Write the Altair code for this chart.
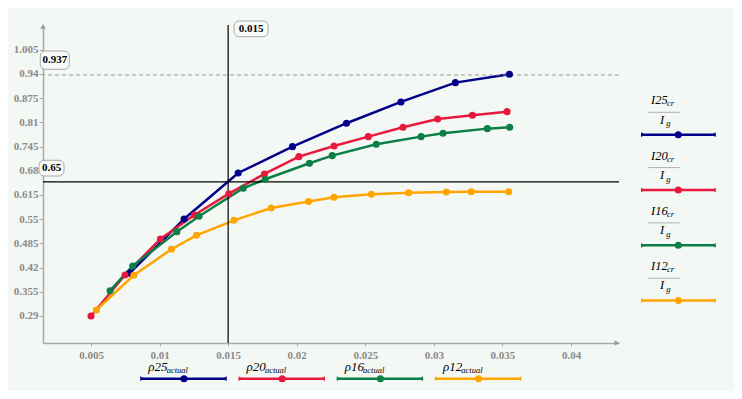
import altair as alt
import pandas as pd

# ---------------- data ----------------
series_names = ["I25", "I20", "I16", "I12"]
series_nums = ["25", "20", "16", "12"]
series_colors = ["#00008b", "#e8193c", "#0b7f45", "#ffa500"]

x25 = [0.00782, 0.01179, 0.01573, 0.01969, 0.02363, 0.0276, 0.03157, 0.03551]
y25 = [0.405, 0.5505, 0.674, 0.7446, 0.8075, 0.8647, 0.9165, 0.939]

x20 = [0.005, 0.00748, 0.01006, 0.01254, 0.01505, 0.01765, 0.02016, 0.02272,
       0.02522, 0.02775, 0.03028, 0.03281, 0.03534]
y20 = [0.29, 0.400, 0.4968, 0.5612, 0.6184, 0.6713, 0.7178, 0.7465,
       0.7715, 0.7967, 0.819, 0.829, 0.8386]

x16 = [0.00639, 0.00804, 0.01126, 0.01288, 0.0161, 0.0177, 0.02093, 0.02259,
       0.0258, 0.02907, 0.03067, 0.0339, 0.03553]
y16 = [0.3579, 0.4243, 0.5164, 0.5577, 0.633, 0.6571, 0.7001, 0.7205,
       0.7511, 0.7715, 0.7806, 0.793, 0.7967]

x12 = [0.00539, 0.00812, 0.01086, 0.01269, 0.01542, 0.01814, 0.02086, 0.02272,
       0.02544, 0.02816, 0.03091, 0.03272, 0.03546]
y12 = [0.3061, 0.3993, 0.4691, 0.5066, 0.5469, 0.5799, 0.5974, 0.6087,
       0.6167, 0.621, 0.6229, 0.6237, 0.6237]

x_ticks = [0.005, 0.01, 0.015, 0.02, 0.025, 0.03, 0.035, 0.04]
y_ticks = [0.29, 0.355, 0.42, 0.485, 0.55, 0.615, 0.68, 0.745, 0.81, 0.875, 0.94, 1.005]

v_marker = 0.015
h_marker = 0.65
max_marker = 0.937

x_domain = [0.0015, 0.0435]
y_domain = [0.2175, 1.0712]

# ---------------- styling ----------------
BG = "#f4f8f5"
AXC = "#a8a8a8"
LBL = "#8a8a8a"
SERIF = "Liberation Serif"
W, H = 576, 318

xs = alt.Scale(domain=x_domain, nice=False, zero=False)
ys = alt.Scale(domain=y_domain, nice=False, zero=False)
cs = alt.Scale(domain=series_names, range=series_colors)

xaxis = alt.Axis(values=x_ticks, format=".3~f", title=None, grid=False,
                 labelFont=SERIF, labelFontWeight="bold", labelFontSize=11,
                 labelColor=LBL, domainColor=AXC, domainWidth=1.5,
                 tickColor=AXC, tickSize=3, labelPadding=3,
                 labelFlush=False, labelOverlap=False)
yaxis = alt.Axis(values=y_ticks, format=".3~f", title=None, grid=False,
                 labelFont=SERIF, labelFontWeight="bold", labelFontSize=11,
                 labelColor=LBL, domainColor=AXC, domainWidth=1.5,
                 tickColor=AXC, tickSize=4, labelPadding=1,
                 labelFlush=False, labelOverlap=False)

rows = []
for name, xs_, ys_ in zip(series_names, [x25, x20, x16, x12], [y25, y20, y16, y12]):
    for i, (a, b) in enumerate(zip(xs_, ys_)):
        rows.append({"series": name, "x": a, "y": b, "i": i})
df = pd.DataFrame(rows)

color = alt.Color("series:N", scale=cs, legend=None)
XQ = lambda f: alt.X(f, scale=xs, axis=xaxis)
YQ = lambda f: alt.Y(f, scale=ys, axis=yaxis)

PT = 50

lines = alt.Chart(df).mark_line(strokeWidth=2.5).encode(
    x=XQ("x:Q"), y=YQ("y:Q"), color=color, order="i:Q")
points = alt.Chart(df).mark_point(filled=True, size=PT, opacity=1).encode(
    x=XQ("x:Q"), y=YQ("y:Q"), color=color)

# reference lines
vdf = pd.DataFrame({"v": [v_marker], "lab": [f"{v_marker:g}"]})
hdf = pd.DataFrame({"v": [h_marker], "lab": [f"{h_marker:g}"]})
mdf = pd.DataFrame({"v": [max_marker], "lab": [f"{max_marker:g}"]})

vrule = alt.Chart(vdf).mark_rule(color="black", strokeWidth=1.2).encode(x=XQ("v:Q"))
hrule = alt.Chart(hdf).mark_rule(color="black", strokeWidth=1.2).encode(y=YQ("v:Q"))
mrule = alt.Chart(mdf).mark_rule(color="#9a9a9a", strokeWidth=1, strokeDash=[4, 3]).encode(
    y=YQ("v:Q"))

box_style = dict(fill="#f8faf8", stroke="#a9a9a9", strokeWidth=1, cornerRadius=5)
txt_style = dict(font=SERIF, fontWeight="bold", fontSize=11, color="black",
                 align="center", baseline="middle")

vbox = alt.Chart(vdf).mark_rect(xOffset=6, x2Offset=40, **box_style).encode(
    x=XQ("v:Q"), x2="v:Q", y=alt.value(-4), y2=alt.value(11.7))
vtxt = alt.Chart(vdf).mark_text(dx=23, **txt_style).encode(
    x=XQ("v:Q"), y=alt.value(4), text="lab:N")

hbox = alt.Chart(hdf).mark_rect(yOffset=-21.6, y2Offset=-5.9, **box_style).encode(
    y=YQ("v:Q"), y2="v:Q", x=alt.value(-4), x2=alt.value(21))
htxt = alt.Chart(hdf).mark_text(dy=-14, **txt_style).encode(
    y=YQ("v:Q"), x=alt.value(8.5), text="lab:N")

mbox = alt.Chart(mdf).mark_rect(yOffset=-24, y2Offset=-5.7, **box_style).encode(
    y=YQ("v:Q"), y2="v:Q", x=alt.value(-2.7), x2=alt.value(26.3))
mtxt = alt.Chart(mdf).mark_text(dy=-15, **txt_style).encode(
    y=YQ("v:Q"), x=alt.value(11.8), text="lab:N")

# axis arrows
one = pd.DataFrame({"k": [0]})
yarrow = alt.Chart(one).mark_point(shape="triangle-up", filled=True, size=30,
                                   color="#999999", opacity=1).encode(
    x=alt.value(0), y=alt.value(1.5))
xarrow = alt.Chart(one).mark_point(shape="triangle-right", filled=True, size=30,
                                   color="#999999", opacity=1).encode(
    x=alt.value(W - 2), y=alt.value(H))

# ---------------- right legend (fractions) ----------------
OX, OY = 43, 25  # plot origin in page pixels
rl = pd.DataFrame({
    "series": series_names,
    "main": ["I" + n for n in series_nums],
    "yl": [134.7 + 55.3 * i - OY for i in range(4)],
})
rl["y_main"] = rl["yl"] - 30.5
rl["y_sub"] = rl["yl"] - 28.5
rl["y_bar"] = rl["yl"] - 22.4
rl["y_den"] = rl["yl"] - 11.2
rl["y_g"] = rl["yl"] - 8.5
rl["sub"] = "cr"
rl["den"] = "I"
rl["g"] = "g"

it = dict(font=SERIF, fontStyle="italic", color="black", align="left", baseline="alphabetic")
ypx = lambda f: alt.Y(f + ":Q", scale=None, axis=None)
xpx = lambda f: alt.X(f + ":Q", scale=None, axis=None)

r_main = alt.Chart(rl).mark_text(fontSize=12.5, **it).encode(
    x=alt.value(651 - OX), y=ypx("y_main"), text="main:N")
r_sub = alt.Chart(rl).mark_text(fontSize=8.5, **it).encode(
    x=alt.value(667 - OX), y=ypx("y_sub"), text="sub:N")
r_bar = alt.Chart(rl).mark_rule(color="#b0b0b0", strokeWidth=1).encode(
    x=alt.value(648.3 - OX), x2=alt.value(680 - OX), y=ypx("y_bar"))
r_den = alt.Chart(rl).mark_text(fontSize=12.5, **it).encode(
    x=alt.value(660 - OX), y=ypx("y_den"), text="den:N")
r_g = alt.Chart(rl).mark_text(fontSize=8.5, **it).encode(
    x=alt.value(666.3 - OX), y=ypx("y_g"), text="g:N")
r_line = alt.Chart(rl).mark_rule(strokeWidth=2.5).encode(
    x=alt.value(641.7 - OX), x2=alt.value(715 - OX), y=ypx("yl"), color=color)
r_pt = alt.Chart(rl).mark_point(filled=True, size=PT, opacity=1).encode(
    x=alt.value(678.3 - OX), y=ypx("yl"), color=color)
r_capl = alt.Chart(rl).mark_point(shape="triangle-right", filled=True, size=22, opacity=1).encode(
    x=alt.value(643 - OX), y=ypx("yl"), color=color)
r_capr = alt.Chart(rl).mark_point(shape="triangle-left", filled=True, size=22, opacity=1).encode(
    x=alt.value(713.7 - OX), y=ypx("yl"), color=color)

# ---------------- bottom legend ----------------
bl = pd.DataFrame({
    "series": series_names,
    "main": ["\u03c1" + n for n in series_nums],
    "x0": [141 + 98.2 * i - OX for i in range(4)],
})
bl["x1"] = bl["x0"] + 85
bl["xp"] = bl["x0"] + 43
bl["xl"] = bl["x0"] + 7.3
bl["xs"] = bl["x0"] + 25.7
bl["xcl"] = bl["x0"] + 1.3
bl["xcr"] = bl["x1"] - 1.3
bl["sub"] = "actual"
BY = 378.7 - OY

b_main = alt.Chart(bl).mark_text(fontSize=13, **it).encode(
    x=xpx("xl"), y=alt.value(371 - OY), text="main:N")
b_sub = alt.Chart(bl).mark_text(fontSize=8.5, **it).encode(
    x=xpx("xs"), y=alt.value(373 - OY), text="sub:N")
b_line = alt.Chart(bl).mark_rule(strokeWidth=2.5).encode(
    x=xpx("x0"), x2="x1:Q", y=alt.value(BY), color=color)
b_pt = alt.Chart(bl).mark_point(filled=True, size=PT, opacity=1).encode(
    x=xpx("xp"), y=alt.value(BY), color=color)
b_capl = alt.Chart(bl).mark_point(shape="triangle-right", filled=True, size=22, opacity=1).encode(
    x=xpx("xcl"), y=alt.value(BY), color=color)
b_capr = alt.Chart(bl).mark_point(shape="triangle-left", filled=True, size=22, opacity=1).encode(
    x=xpx("xcr"), y=alt.value(BY), color=color)

chart = alt.layer(
    lines, mrule, hrule, vrule, points,
    vbox, vtxt, hbox, htxt, mbox, mtxt, yarrow, xarrow,
    r_main, r_sub, r_bar, r_den, r_g, r_line, r_pt, r_capl, r_capr,
    b_main, b_sub, b_line, b_pt, b_capl, b_capr,
).properties(
    width=W, height=H,
    autosize=alt.AutoSizeParams(type="none"),
    padding={"left": 35, "top": 17, "right": 742 - 16 - 35 - W, "bottom": 399 - 16 - 17 - H},
    background=BG,
).configure_view(stroke=None)

chart.save("out.html", embed_options={"renderer": "svg", "actions": False})
